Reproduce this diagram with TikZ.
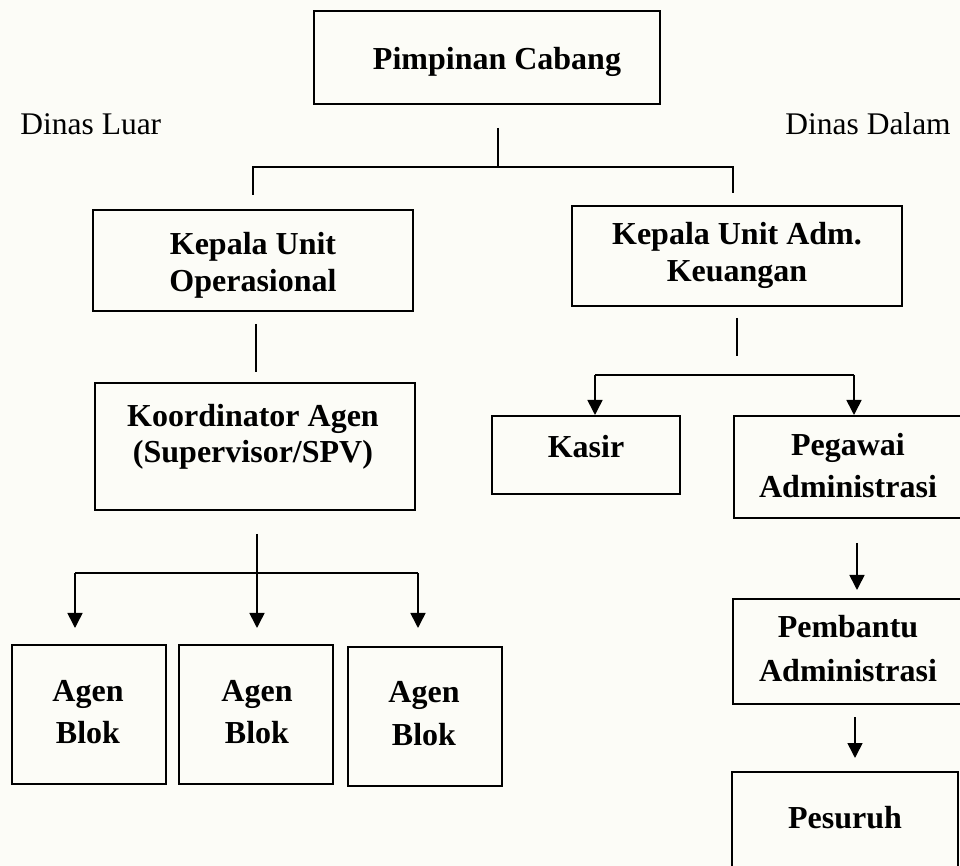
\documentclass[tikz,border=0pt]{standalone}
\usepackage{fontspec}
\setmainfont{Liberation Serif}
\usetikzlibrary{arrows.meta,fit}
\definecolor{bgc}{RGB}{252,252,247}
\begin{document}
\begin{tikzpicture}[x=0.5pt,y=-0.5pt,
 box/.style={draw, line width=1pt, inner sep=0pt, outer sep=0pt},
 lbl/.style={font=\fontsize{16}{19}\selectfont\bfseries, anchor=base, inner sep=0pt},
 plaintxt/.style={font=\fontsize{15.75}{19}\selectfont, anchor=base west, inner sep=0pt},
 conn/.style={line width=0.8pt},
 arr/.style={conn, -{Triangle[width=7.5pt,length=7.5pt]}}]
\fill[bgc] (0,0) rectangle (960,866);
\useasboundingbox (0,0) rectangle (960,866);

% boxes
\node[box, fit={(314,11) (660,104)}] (pc) {};
\node[box, fit={(93,210) (413,311)}] (kuo) {};
\node[box, fit={(572,206) (902,306)}] (kua) {};
\node[box, fit={(95,383) (415,510)}] (ka) {};
\node[box, fit={(492,416) (680,494)}] (kasir) {};
\node[box, fit={(734,416) (985,518)}] (pega) {};
\node[box, fit={(733,599) (985,704)}] (pemb) {};
\node[box, fit={(732,772) (958,900)}] (pes) {};
\node[box, fit={(12,645) (166,784)}] (ab1) {};
\node[box, fit={(179,645) (333,784)}] (ab2) {};
\node[box, fit={(348,647) (502,786)}] (ab3) {};

% texts
\node[lbl] (pct) at (497,70) {Pimpinan Cabang};
\node[plaintxt] (dl) at (20,135) {Dinas Luar};
\node[plaintxt] (dd) at (785,135) {Dinas Dalam};
\node[lbl] (kuo1) at (253,255) {Kepala Unit};
\node[lbl] (kuo2) at (253,292) {Operasional};
\node[lbl] (kua1) at (737,245) {Kepala Unit Adm.};
\node[lbl] (kua2) at (737,282) {Keuangan};
\node[lbl] (ka1) at (253,427) {Koordinator Agen};
\node[lbl] (ka2) at (253,463) {(Supervisor/SPV)};
\node[lbl] (kasirt) at (586,458) {Kasir};
\node[lbl] (pega1) at (848,456) {Pegawai};
\node[lbl] (pega2) at (848,498) {Administrasi};
\node[lbl] (pemb1) at (848,638) {Pembantu};
\node[lbl] (pemb2) at (848,682) {Administrasi};
\node[lbl] (pest) at (845,828) {Pesuruh};
\node[lbl] (ab1a) at (88,702) {Agen};
\node[lbl] (ab1b) at (88,743) {Blok};
\node[lbl] (ab2a) at (257,702) {Agen};
\node[lbl] (ab2b) at (257,743) {Blok};
\node[lbl] (ab3a) at (424,703) {Agen};
\node[lbl] (ab3b) at (424,745) {Blok};

% connector coordinates
\coordinate (pcs) at (498,128);
\coordinate (pcj) at (498,167);
\coordinate (tl) at (253,167);
\coordinate (tr) at (733,167);
\coordinate (tld) at (253,195);
\coordinate (trd) at (733,193);

\coordinate (kuos) at (256,324);
\coordinate (kuoe) at (256,372);

\coordinate (kas) at (257,534);
\coordinate (kaj) at (257,573);
\coordinate (bl) at (75,573);
\coordinate (br) at (418,573);
\coordinate (blt) at (75,628);
\coordinate (bmt) at (257,628);
\coordinate (brt) at (418,628);

\coordinate (kuas) at (737,318);
\coordinate (kuae) at (737,356);
\coordinate (rl) at (595,375);
\coordinate (rr) at (854,375);
\coordinate (rlt) at (595,415);
\coordinate (rrt) at (854,415);

\coordinate (p1s) at (857,543);
\coordinate (p1e) at (857,590);
\coordinate (p2s) at (855,717);
\coordinate (p2e) at (855,758);

% connectors
\draw[conn] (pcs) -- (pcj);
\draw[conn] (tld) -- (tl) -- (tr) -- (trd);
\draw[conn] (kuos) -- (kuoe);
\draw[conn] (kas) -- (kaj);
\draw[conn] (bl) -- (br);
\draw[arr] (bl) -- (blt);
\draw[arr] (kaj) -- (bmt);
\draw[arr] (br) -- (brt);
\draw[conn] (kuas) -- (kuae);
\draw[conn] (rl) -- (rr);
\draw[arr] (rl) -- (rlt);
\draw[arr] (rr) -- (rrt);
\draw[arr] (p1s) -- (p1e);
\draw[arr] (p2s) -- (p2e);
\end{tikzpicture}
\end{document}
